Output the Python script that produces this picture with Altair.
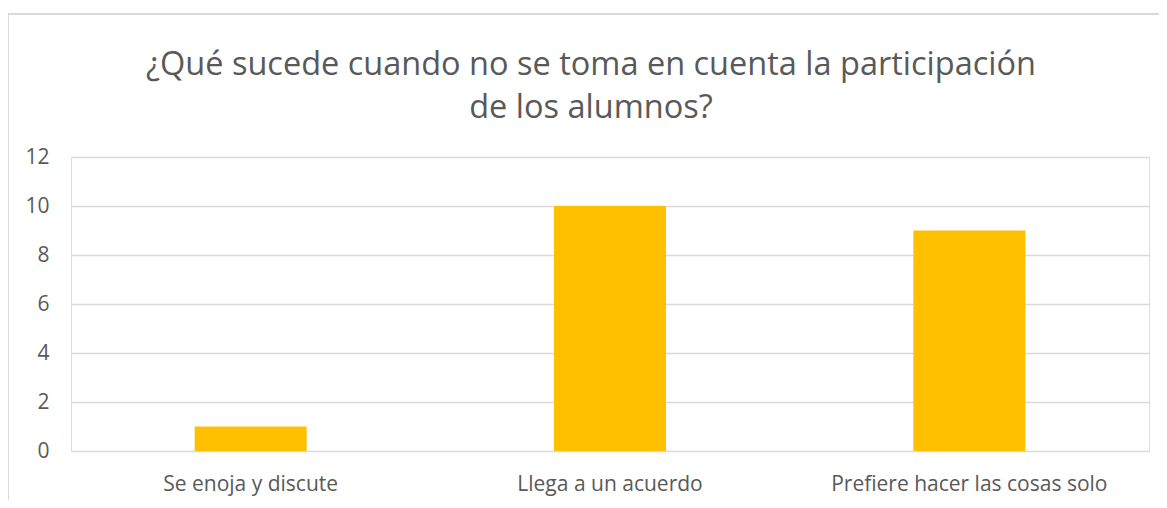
import altair as alt
import pandas as pd

categories = ["Se enoja y discute", "Llega a un acuerdo", "Prefiere hacer las cosas solo"]
values = [1, 10, 9]
y_ticks = [0, 2, 4, 6, 8, 10, 12]

df = pd.DataFrame({"categoria": categories, "valor": values})

FONT = "Open Sans"
GREY = "#595959"
W, H = 1078, 294

bars = alt.Chart(df).mark_bar(color="#FFC000", size=112).encode(
    x=alt.X("categoria:N", sort=categories, title=None,
            scale=alt.Scale(paddingInner=0.0, paddingOuter=0.0),
            axis=alt.Axis(labelAngle=0, domain=False, ticks=False, labelPadding=22,
                          labelLimit=0, labelFontSize=21, labelColor=GREY, labelFont=FONT)),
    y=alt.Y("valor:Q", title=None,
            scale=alt.Scale(domain=[0, 12], nice=False),
            axis=alt.Axis(values=y_ticks, domain=False, ticks=False, labelPadding=22,
                          labelFontSize=21, labelColor=GREY, labelFont=FONT,
                          grid=True, gridColor="#d9d9d9", gridWidth=1.5)),
)

frame = alt.Chart(df).mark_rect(fill=None, stroke="#d9d9d9", strokeWidth=1.5).encode(
    x=alt.value(-63), x2=alt.value(W + 60), y=alt.value(-143), y2=alt.value(H + 80)
)

chart = alt.layer(frame, bars).properties(
    width=W, height=H,
    title=alt.TitleParams(
        ["¿Qué sucede cuando no se toma en cuenta la participación", "de los alumnos?"],
        anchor="middle", frame="group", dx=-19, offset=-111,
        fontSize=32.5, font=FONT, fontWeight="normal", color=GREY, lineHeight=43,
    ),
    autosize=alt.AutoSizeParams(type="none"),
    padding={"left": 63, "top": 149, "right": 10, "bottom": 49},
).configure_view(strokeWidth=0).configure(background="white")

chart.save("out.html", embed_options={"renderer": "svg", "actions": False})
